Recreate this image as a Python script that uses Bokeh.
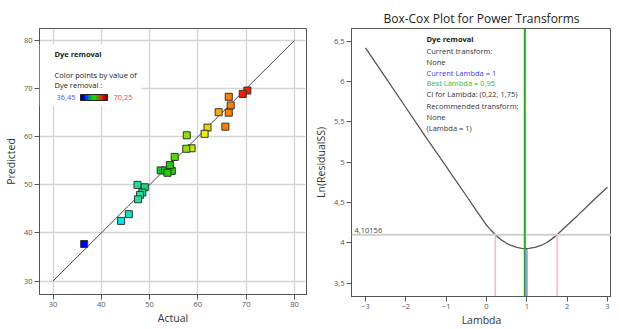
from bokeh.plotting import figure
from bokeh.layouts import row
from bokeh.models import (ColumnDataSource, LinearColorMapper, ColorBar, Label,
                          Span, BoxAnnotation, FixedTicker, Range1d)
from bokeh.embed import file_html
from bokeh.resources import INLINE

# ---------------- data: Predicted vs Actual ----------------
actual = [70.25, 69.3, 66.4, 66.8, 64.3, 66.4, 65.7, 62.0, 61.4, 57.7, 58.7, 57.6, 55.2,
          52.3, 53.2, 54.2, 54.6, 53.7, 54.2,
          47.5, 49.0, 48.5, 48.0, 47.6, 45.7, 44.1, 36.45]
predicted = [69.6, 68.9, 68.3, 66.5, 65.1, 65.0, 62.1, 61.9, 60.6, 60.3, 57.6, 57.5, 55.8,
             53.0, 53.0, 53.3, 52.9, 52.5, 54.1,
             50.0, 49.5, 48.4, 47.9, 47.0, 43.9, 42.5, 37.7]
diag = [30, 80]
axis_ticks_1 = [30, 40, 50, 60, 70, 80]
dye_min, dye_max = 36.45, 70.25

# ---------------- data: Box-Cox ----------------
lam = [-3, -2.5, -2, -1.5, -1, -0.75, -0.5, -0.25, 0, 0.125, 0.25, 0.375, 0.5, 0.625,
       0.75, 0.875, 0.95, 1.05, 1.2, 1.35, 1.5, 1.625, 1.75, 1.875, 2.0, 2.25, 2.5,
       2.75, 3]
ln_ss = [6.42, 6.05, 5.68, 5.31, 4.95, 4.765, 4.585, 4.40, 4.22, 4.15, 4.085, 4.035,
         3.995, 3.965, 3.945, 3.933, 3.93, 3.932, 3.945, 3.968, 4.005, 4.05, 4.10, 4.16,
         4.22, 4.335, 4.455, 4.575, 4.69]
best_lambda = 0.95
current_lambda = 1.0
ci_low, ci_high = 0.22, 1.75
ci_threshold = 4.10156
min_ln_ss = 3.93
lam_ticks = [-3, -2, -1, 0, 1, 2, 3]
ln_ticks = [3.5, 4, 4.5, 5, 5.5, 6, 6.5]
ln_tick_labels = ["3,5", "4", "4,5", "5", "5,5", "6", "6,5"]

FONT = "Open Sans"

point_palette = ["#0000ff", "#0040ff", "#0080ff", "#00c0ff", "#00e8e8", "#00e8c0",
                 "#20e0a0", "#10dc80", "#00d850", "#00cc20", "#20d000", "#50dc00",
                 "#90e000", "#c8e400", "#f0f000", "#f0d000", "#ffaa00", "#ff8000",
                 "#ff5000", "#ff1800"]
bar_palette = ["#000090", "#0000ff", "#0050c0", "#00a060", "#00e000", "#30c000",
               "#808000", "#c04000", "#e00000", "#b00000"]


def style_axes(p):
    for ax in (p.xaxis[0], p.yaxis[0]):
        ax.axis_line_color = "#555555"
        ax.major_tick_line_color = "#555555"
        ax.major_tick_out = 5
        ax.major_tick_in = 0
        ax.minor_tick_line_color = None
        ax.major_label_text_font = FONT
        ax.major_label_text_font_size = "7.5px"
        ax.major_label_text_color = "#555555"
        ax.major_label_standoff = 2
        ax.axis_label_text_font = FONT
        ax.axis_label_text_font_size = "10.5px"
        ax.axis_label_text_font_style = "normal"
        ax.axis_label_text_color = "#333333"
        ax.axis_label_standoff = 3
    p.xaxis[0].axis_label_standoff = 1
    p.outline_line_color = "#555555"
    p.outline_line_width = 1


# ================= left figure =================
FH1 = 266
p1 = figure(frame_width=267, frame_height=FH1,
            min_border_left=33, min_border_right=4, min_border_top=28, min_border_bottom=24,
            x_range=Range1d(27.2, 82.5), y_range=Range1d(27.2, 82.5),
            output_backend="svg", toolbar_location=None,
            x_axis_label="Actual", y_axis_label="Predicted")
p1.xaxis.ticker = FixedTicker(ticks=axis_ticks_1)
p1.yaxis.ticker = FixedTicker(ticks=axis_ticks_1)
p1.xgrid.ticker = FixedTicker(ticks=axis_ticks_1)
p1.ygrid.ticker = FixedTicker(ticks=axis_ticks_1)
p1.grid.grid_line_color = "#d4d4d4"
p1.grid.grid_line_width = 1.3
style_axes(p1)

p1.line(diag, diag, line_color="#444444", line_width=1)

mapper = LinearColorMapper(palette=point_palette, low=dye_min, high=dye_max,
                           high_color="#ff0000")
src = ColumnDataSource(dict(actual=actual, predicted=predicted))
p1.scatter("actual", "predicted", source=src, marker="square", size=7,
           fill_color={"field": "actual", "transform": mapper},
           line_color="#333333", line_width=1)

# white box behind the legend text
p1.add_layout(BoxAnnotation(left=0, right=102, bottom=FH1 - 77, top=FH1 - 16,
                            left_units="screen", right_units="screen",
                            bottom_units="screen", top_units="screen",
                            fill_color="white", fill_alpha=1, line_color=None))


def lab(p, text, x, y, color="#222222", bold=False, size="7.5px"):
    p.add_layout(Label(x=x, y=y, x_units="screen", y_units="screen", text=text,
                       text_font=FONT, text_font_size=size,
                       text_font_style="bold" if bold else "normal",
                       text_color=color, text_baseline="middle", text_align="left"))


lab(p1, "Dye removal", 15, FH1 - 25, bold=True)
lab(p1, "Color points by value of", 15, FH1 - 46)
lab(p1, "Dye removal :", 15, FH1 - 56)
lab(p1, "36,45", 17, FH1 - 69, color="#5050ff")
lab(p1, "70,25", 74, FH1 - 69, color="#ff4040")

bar_mapper = LinearColorMapper(palette=bar_palette, low=dye_min, high=dye_max)
cb = ColorBar(color_mapper=bar_mapper, orientation="horizontal",
              location=(41, FH1 - 72), width=27, height=6, padding=0, margin=0,
              major_label_text_font_size="1px", major_label_text_alpha=0,
              major_tick_line_color=None, minor_tick_line_color=None,
              label_standoff=0, bar_line_color="#222222", bar_line_width=1,
              border_line_color=None, background_fill_alpha=0)
p1.add_layout(cb)

# ================= right figure =================
FH2 = 268
p2 = figure(frame_width=260, frame_height=FH2,
            min_border_left=36, min_border_right=0, min_border_top=26, min_border_bottom=24,
            x_range=Range1d(-3.347, 3.10), y_range=Range1d(3.335, 6.66),
            output_backend="svg", toolbar_location=None,
            x_axis_label="Lambda", y_axis_label="Ln(ResidualSS)",
            title="Box-Cox Plot for Power Transforms")
p2.title.text_font = FONT
p2.title.text_font_size = "12px"
p2.title.text_font_style = "normal"
p2.title.text_color = "#222222"
p2.title.align = "center"
p2.title.offset = 4
p2.title.standoff = 3
p2.xaxis.ticker = FixedTicker(ticks=lam_ticks)
p2.yaxis.ticker = FixedTicker(ticks=ln_ticks)
p2.yaxis.major_label_overrides = {t: s for t, s in zip(ln_ticks, ln_tick_labels)}
p2.grid.grid_line_color = None
style_axes(p2)

p2.add_layout(Span(location=ci_threshold, dimension="width", line_color="#cfcfcf",
                   line_width=2))
p2.segment(x0=[ci_low, ci_high], y0=[3.335, 3.335], x1=[ci_low, ci_high],
           y1=[ci_threshold, ci_threshold], line_color="#ffb4b4", line_width=1.5)
p2.segment(x0=[current_lambda], y0=[3.335], x1=[current_lambda], y1=[min_ln_ss],
           line_color="#9a9aff", line_width=2)
p2.line(lam, ln_ss, line_color="#555555", line_width=1.3)
p2.add_layout(Span(location=best_lambda, dimension="height", line_color="#22aa22",
                   line_width=2))

p2.add_layout(Label(x=3, y=ci_threshold, x_units="screen", y_units="data",
                    text="4,10156", y_offset=2, text_font=FONT,
                    text_font_size="7.5px", text_color="#444444",
                    text_baseline="bottom", text_align="left"))

legend_lines = [("Dye removal", "#222222", True),
                ("Current transform:", "#333333", False),
                ("None", "#333333", False),
                ("Current Lambda = 1", "#3a3aff", False),
                ("Best Lambda = 0,95", "#33bb33", False),
                ("CI for Lambda: (0,22, 1,75)", "#333333", False),
                ("Recommended transform:", "#333333", False),
                ("None", "#333333", False),
                ("(Lambda = 1)", "#333333", False)]
offsets = [10, 22, 33, 44, 54, 65, 77, 88, 99]
for (t, c, b), off in zip(legend_lines, offsets):
    lab(p2, t, 75, FH2 - off, color=c, bold=b)

layout = row(p1, p2)
open("out.html", "w").write(file_html(layout, INLINE))
